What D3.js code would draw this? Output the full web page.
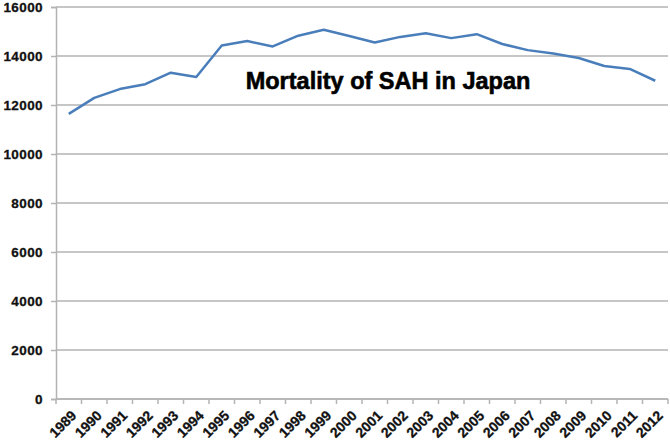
<!DOCTYPE html>
<html>
<head>
<meta charset="utf-8">
<script src="https://cdn.jsdelivr.net/npm/d3@7"></script>
<style>
  body { margin: 0; background: #fff; }
  svg text { font-family: "Liberation Sans", Arial, sans-serif; }
</style>
</head>
<body>
<div id="chart"></div>
<script>
// data
let years = ["1989", "1990", "1991", "1992", "1993", "1994", "1995", "1996", "1997", "1998", "1999", "2000",
    "2001", "2002", "2003", "2004", "2005", "2006", "2007", "2008", "2009", "2010", "2011", "2012"];
let deaths = [11640, 12290, 12650, 12850, 13320, 13140, 14430, 14610, 14390, 14830, 15070, 14820,
    14550, 14780, 14930, 14730, 14890, 14490, 14240, 14100, 13920, 13590, 13470, 12990];
let yTicks = [0, 2000, 4000, 6000, 8000, 10000, 12000, 14000, 16000];
let title = "Mortality of SAH in Japan";

let margin = { top: 7, right: 2, bottom: 47, left: 56 };
let width = 670 - margin.left - margin.right;
let height = 446 - margin.top - margin.bottom;

let svg = d3.select("#chart").append("svg")
    .attr("width", 670)
    .attr("height", 446);

let g = svg.append("g")
    .attr("transform", "translate(" + margin.left + "," + margin.top + ")");

let x = d3.scaleBand().domain(years).range([0, width]);
let y = d3.scaleLinear().domain([0, 16000]).range([height, 0]);

// gridlines
g.append("g")
    .selectAll("line")
    .data(yTicks)
    .enter()
    .append("line")
    .attr("x1", 0)
    .attr("x2", width)
    .attr("y1", function (d) { return y(d); })
    .attr("y2", function (d) { return y(d); })
    .attr("stroke", "#b3b3b3")
    .attr("stroke-width", 1.5);

// y axis
let yAxis = g.append("g")
    .call(d3.axisLeft(y).tickValues(yTicks).tickSize(5).tickPadding(8).tickFormat(d3.format("d")));
yAxis.select(".domain").attr("stroke", "#b3b3b3").attr("stroke-width", 1.5);
yAxis.selectAll(".tick line").attr("stroke", "#b3b3b3").attr("stroke-width", 1.5);
yAxis.selectAll("text")
    .style("font-size", "13.5px")
    .style("font-weight", "bold")
    .style("letter-spacing", "0.4px")
    .attr("fill", "#111")
    .attr("stroke", "#111")
    .attr("stroke-width", 0.3);

// x axis: ticks sit between categories
let xAxis = g.append("g")
    .attr("transform", "translate(0," + height + ")");
xAxis.append("line")
    .attr("x1", 0).attr("x2", width)
    .attr("stroke", "#b3b3b3").attr("stroke-width", 1.5);
xAxis.selectAll(".xtick")
    .data(years.concat(["end"]))
    .enter()
    .append("line")
    .attr("x1", function (d, i) { return i * x.step(); })
    .attr("x2", function (d, i) { return i * x.step(); })
    .attr("y1", 0)
    .attr("y2", 5)
    .attr("stroke", "#b3b3b3")
    .attr("stroke-width", 1.5);
xAxis.selectAll(".xlabel")
    .data(years)
    .enter()
    .append("text")
    .attr("transform", function (d) {
        return "translate(" + (x(d) + x.bandwidth() / 2 + 5) + ",14) rotate(-45)";
    })
    .attr("text-anchor", "end")
    .attr("dy", "0.35em")
    .style("font-size", "14px")
    .style("font-weight", "bold")
    .attr("fill", "#111")
    .attr("stroke", "#111")
    .attr("stroke-width", 0.3)
    .text(function (d) { return d; });

// line
let line = d3.line()
    .x(function (d, i) { return x(years[i]) + x.bandwidth() / 2; })
    .y(function (d) { return y(d); });

g.append("path")
    .datum(deaths)
    .attr("fill", "none")
    .attr("stroke", "#4a7ebb")
    .attr("stroke-width", 2.5)
    .attr("stroke-linejoin", "round")
    .attr("d", line);

// title inside plot
svg.append("text")
    .attr("x", 388)
    .attr("y", 89)
    .attr("text-anchor", "middle")
    .style("font-size", "23.5px")
    .style("font-weight", "bold")
    .attr("fill", "#000")
    .attr("stroke", "#000")
    .attr("stroke-width", 0.6)
    .text(title);
</script>
</body>
</html>
